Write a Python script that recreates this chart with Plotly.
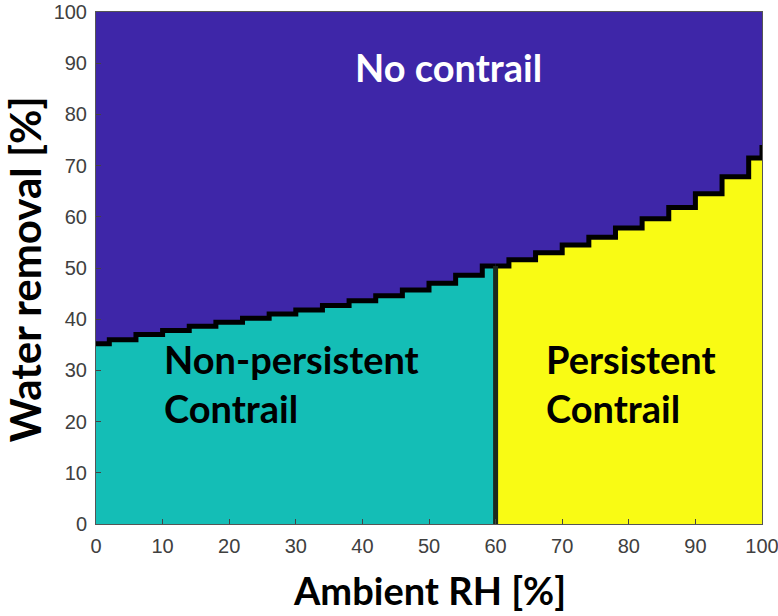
import plotly.graph_objects as go

# boundary between "no contrail" and contrail (staircase)
rh = [0, 4, 8, 12, 16, 20, 24, 28, 32, 36, 40, 44, 48, 52, 56, 60,
      64, 68, 72, 76, 80, 84, 88, 92, 96, 100]
wr_limit = [35.2, 36.0, 37.0, 37.8, 38.6, 39.4, 40.2, 41.0, 41.8, 42.7, 43.6, 44.6, 45.7, 47.0, 48.6, 50.4,
            51.6, 53.0, 54.5, 56.0, 57.8, 59.6, 61.8, 64.5, 67.8, 71.5]
wr_top = 74.0
rh_split = 60

x_ticks = [0, 10, 20, 30, 40, 50, 60, 70, 80, 90, 100]
y_ticks = [0, 10, 20, 30, 40, 50, 60, 70, 80, 90, 100]

BLUE = '#3E26A8'
TEAL = '#14BEB6'
YELLOW = '#F9FB14'
FONT = 'Lato, Open Sans, sans-serif'

left_x = [x for x in rh if x <= rh_split]
left_y = wr_limit[:len(left_x)]
right_x = [x for x in rh if x >= rh_split]
right_y = wr_limit[len(left_x) - 1:]

fig = go.Figure()

fig.add_trace(go.Scatter(x=left_x, y=left_y, mode='lines', line_shape='hvh',
	line=dict(color='black', width=5), fill='tozeroy', fillcolor=TEAL, showlegend=False))
fig.add_trace(go.Scatter(x=right_x + [100], y=right_y + [wr_top], mode='lines', line_shape='hvh',
	line=dict(color='black', width=5), fill='tozeroy', fillcolor=YELLOW, showlegend=False))
fig.add_trace(go.Scatter(x=[rh_split, rh_split], y=[0, left_y[-1]], mode='lines',
	line=dict(color='#1c2a1c', width=5), showlegend=False))

lbl = dict(family=FONT, size=38)
fig.add_annotation(x=52.9, y=89.3, text='<b>No contrail</b>', showarrow=False,
	font=dict(lbl, color='white'))
fig.add_annotation(x=9.9, y=27.5, text='<b>Non-persistent<br>Contrail</b>', showarrow=False,
	xanchor='left', align='left', font=dict(lbl, color='black'))
fig.add_annotation(x=67.2, y=27.5, text='<b>Persistent<br>Contrail</b>', showarrow=False,
	xanchor='left', align='left', font=dict(lbl, color='black'))

# axis titles as annotations so they sit where the reference has them
fig.add_annotation(xref='paper', yref='paper', x=0.50, y=-0.129, xanchor='center', yanchor='middle',
	text='<b>Ambient RH [%]</b>', showarrow=False, font=dict(family=FONT, size=38, color='black'))
fig.add_annotation(xref='paper', yref='paper', x=-0.107, y=0.497, xanchor='center', yanchor='middle',
	text='<b>Water removal [%]</b>', showarrow=False, textangle=-90,
	font=dict(family=FONT, size=42, color='black'))

axis_style = dict(range=[0, 100], showgrid=False, zeroline=False, ticks='inside', ticklen=5,
	tickcolor='#444', showline=True, linecolor='#555', linewidth=1, mirror=True, automargin=False,
	ticklabeloverflow='allow', ticklabelstandoff=4,
	tickfont=dict(family='Liberation Sans, Arial', size=20, color='#404040'))

fig.update_xaxes(axis_style, tickvals=x_ticks)
fig.update_yaxes(axis_style, tickvals=y_ticks)

fig.update_layout(width=778, height=616, margin=dict(l=96, r=16, t=12, b=92),
	plot_bgcolor=BLUE, paper_bgcolor='white', showlegend=False)

# drop the default 8px body margin of the page
fig.write_html('out.html', config={'displayModeBar': False},
	post_script="document.body.style.margin='0';")
